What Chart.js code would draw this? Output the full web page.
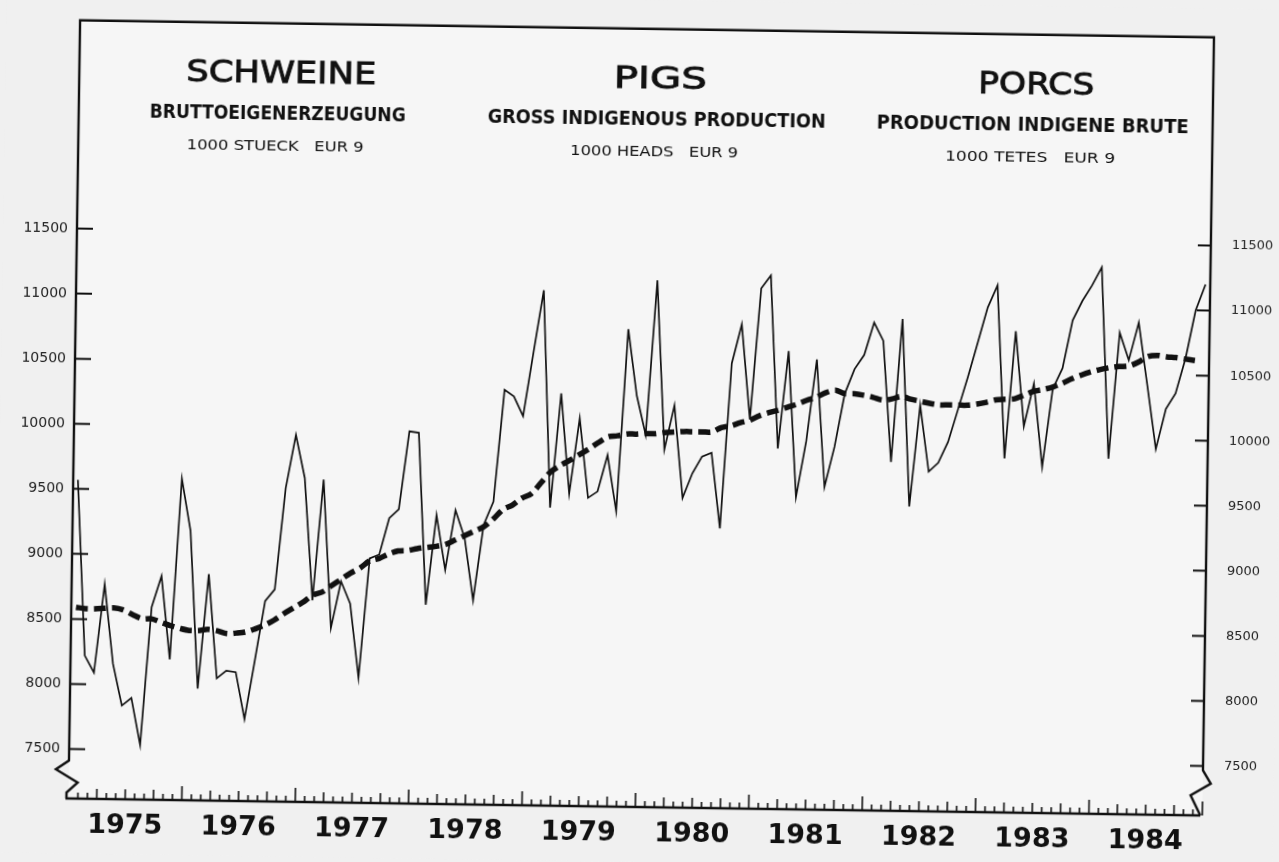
<!DOCTYPE html>
<html>
<head>
<meta charset="utf-8">
<title>Schweine / Pigs / Porcs 1975-1984</title>
<script src="https://cdn.jsdelivr.net/npm/chart.js@4.4.1/dist/chart.umd.min.js"></script>
<style>
  html, body { margin: 0; padding: 0; background: #f0f0f0; overflow: hidden; }
  #wrap { width: 1279px; height: 862px; }
  /* the original is a slightly crooked scan, so the whole sheet is turned a little */
  #chart { display: block; transform: rotate(0.86deg); transform-origin: 50% 50%; }
</style>
</head>
<body>
<div id="wrap"><canvas id="chart" width="1279" height="862"></canvas></div>
<script>
// monthly values, Jan 1975 .. Dec 1984 (1000 heads, EUR 9)
var years = ['1975', '1976', '1977', '1978', '1979', '1980', '1981', '1982', '1983', '1984'];

var production = [
  9570, 8220, 8090, 8770, 8160, 7840, 7900, 7540, 8600, 8840, 8200, 9590,
  9190, 7980, 8860, 8060, 8120, 8110, 7750, 8200, 8660, 8750, 9530, 9940,
  9610, 8670, 9600, 8460, 8820, 8650, 8080, 9000, 9030, 9310, 9380, 9980,
  9970, 8650, 9340, 8920, 9380, 9170, 8690, 9270, 9450, 10310, 10260, 10110,
  10600, 11080, 9410, 10290, 9520, 10100, 9490, 9540, 9820, 9390, 10790, 10280,
  9980, 11170, 9870, 10210, 9500, 9690, 9820, 9850, 9270, 10540, 10840, 10110,
  11120, 11220, 9890, 10640, 9520, 9950, 10580, 9600, 9910, 10320, 10510, 10620,
  10870, 10730, 9800, 10900, 9460, 10240, 9730, 9800, 9960, 10210, 10460, 10730,
  11000, 11170, 9840, 10820, 10090, 10420, 9780, 10380, 10540, 10910, 11060, 11180,
  11320, 9850, 10820, 10610, 10900, 10420, 9930, 10240, 10360, 10630, 11000, 11200
];

var trend = [
  8590, 8580, 8580, 8585, 8590, 8575, 8540, 8510, 8510, 8485, 8460, 8440,
  8425, 8425, 8435, 8425, 8405, 8410, 8420, 8445, 8475, 8515, 8565, 8610,
  8655, 8710, 8735, 8785, 8835, 8885, 8925, 8980, 9000, 9035, 9060, 9065,
  9080, 9090, 9100, 9115, 9150, 9185, 9220, 9255, 9315, 9390, 9425, 9480,
  9515, 9600, 9685, 9735, 9775, 9820, 9865, 9915, 9960, 9970, 9985, 9985,
  9990, 9990, 10000, 10005, 10010, 10010, 10010, 10010, 10045, 10060, 10085, 10105,
  10140, 10165, 10185, 10210, 10235, 10265, 10290, 10325, 10345, 10320, 10320, 10310,
  10295, 10275, 10285, 10305, 10285, 10270, 10255, 10245, 10245, 10245, 10245, 10255,
  10270, 10290, 10295, 10300, 10330, 10360, 10375, 10395, 10425, 10460, 10490, 10515,
  10535, 10550, 10560, 10565, 10595, 10640, 10650, 10640, 10635, 10625, 10615, null
];

var yTickValues = [7500, 8000, 8500, 9000, 9500, 10000, 10500, 11000, 11500];

var titleMain = ['SCHWEINE', 'PIGS', 'PORCS'];
var titleSub = ['BRUTTOEIGENERZEUGUNG', 'GROSS INDIGENOUS PRODUCTION', 'PRODUCTION INDIGENE BRUTE'];
var titleUnit = ['1000 STUECK   EUR 9', '1000 HEADS   EUR 9', '1000 TETES   EUR 9'];

function toPoints(arr) {
  var out = [];
  for (var i = 0; i < arr.length; i++) out.push({ x: i, y: arr[i] });
  return out;
}

// text squeezed or stretched to the width it has on the sheet
function fitText(ctx, text, cx, cy, font, width, heavy) {
  ctx.save();
  ctx.font = font;
  var w = ctx.measureText(text).width;
  ctx.translate(cx, cy);
  ctx.scale(width / w, 1);
  ctx.textAlign = 'center';
  ctx.textBaseline = 'middle';
  ctx.fillText(text, 0, 0);
  if (heavy) {
    ctx.lineWidth = heavy;
    ctx.strokeText(text, 0, 0);
  }
  ctx.restore();
}

var sheetPlugin = {
  id: 'sheet',
  beforeDraw: function (chart) {
    var ctx = chart.ctx, a = chart.chartArea;
    ctx.save();
    ctx.fillStyle = '#f0f0f0';
    ctx.fillRect(0, 0, chart.width, chart.height);
    ctx.fillStyle = '#f6f6f6';
    ctx.fillRect(a.left, a.top, a.right - a.left, a.bottom - a.top);
    ctx.restore();
  },
  afterDraw: function (chart) {
    var ctx = chart.ctx, a = chart.chartArea;
    var xs = chart.scales.x, yl = chart.scales.y, yr = chart.scales.y2;
    ctx.save();
    ctx.strokeStyle = '#111';
    ctx.lineJoin = 'miter';

    // frame: left axis with break, top line, right axis with break
    ctx.lineWidth = 2.4;
    ctx.beginPath();
    ctx.moveTo(a.left - 2, a.bottom);
    ctx.lineTo(a.left - 2, a.bottom - 6);
    ctx.lineTo(a.left + 9, a.bottom - 16);
    ctx.lineTo(a.left - 13, a.bottom - 29);
    ctx.lineTo(a.left, a.bottom - 38);
    ctx.lineTo(a.left, a.top);
    ctx.lineTo(a.right, a.top);
    ctx.lineTo(a.right, a.bottom - 45);
    ctx.lineTo(a.right + 8, a.bottom - 32);
    ctx.lineTo(a.right - 12, a.bottom - 20);
    ctx.lineTo(a.right - 2, a.bottom);
    ctx.stroke();

    // time axis
    ctx.lineWidth = 2.6;
    ctx.beginPath();
    ctx.moveTo(a.left - 3, a.bottom);
    ctx.lineTo(a.right - 2, a.bottom);
    ctx.stroke();

    // month ticks pointing up, longer at quarters and years
    ctx.lineWidth = 1.6;
    ctx.beginPath();
    for (var k = 1; k <= years.length * 12; k++) {
      var px = xs.getPixelForValue(k - 0.5);
      var len = k % 12 === 0 ? 14 : (k % 3 === 0 ? 10 : 6);
      ctx.moveTo(px, a.bottom);
      ctx.lineTo(px, a.bottom - len);
    }
    ctx.stroke();

    // value ticks pointing inwards on both sides
    ctx.lineWidth = 2;
    ctx.beginPath();
    yTickValues.forEach(function (v) {
      var py = yl.getPixelForValue(v);
      ctx.moveTo(a.left, py);
      ctx.lineTo(a.left + 16, py);
      var pr = yr.getPixelForValue(v);
      ctx.moveTo(a.right, pr);
      ctx.lineTo(a.right - 13, pr);
    });
    ctx.stroke();

    // three language headings
    ctx.fillStyle = '#111';
    ctx.strokeStyle = '#111';
    var colX = [276, 655, 1031];
    var w1 = [190, 93, 116], w2 = [256, 338, 312], w3 = [177, 168, 170];
    for (var c = 0; c < 3; c++) {
      fitText(ctx, titleMain[c], colX[c], 79.5, '31px "DejaVu Sans"', w1[c], 0.9);
      fitText(ctx, titleSub[c], colX[c] - 3, 120, 'bold 20px "DejaVu Sans"', w2[c]);
      fitText(ctx, titleUnit[c], colX[c] - 5, 152.5, '14px "DejaVu Sans"', w3[c]);
    }
    ctx.restore();
  }
};

var ctx = document.getElementById('chart').getContext('2d');

new Chart(ctx, {
  type: 'line',
  data: {
    datasets: [
      {
        label: 'Gross indigenous production',
        data: toPoints(production),
        borderColor: '#111',
        borderWidth: 1.7,
        pointRadius: 0,
        tension: 0,
        yAxisID: 'y'
      },
      {
        label: 'Trend',
        data: toPoints(trend),
        borderColor: '#111',
        borderWidth: 5.5,
        borderDash: [12, 6],
        pointRadius: 0,
        tension: 0.3,
        yAxisID: 'y'
      }
    ]
  },
  options: {
    responsive: false,
    animation: false,
    devicePixelRatio: 1,
    layout: { padding: { top: 25, left: 0, right: 0, bottom: 0 } },
    plugins: {
      legend: { display: false },
      tooltip: { enabled: false }
    },
    scales: {
      x: {
        type: 'linear',
        min: -0.5,
        max: years.length * 12 - 0.5,
        grid: { display: false, drawTicks: false, tickLength: 0 },
        border: { display: false },
        afterBuildTicks: function (scale) {
          scale.ticks = years.map(function (y, k) { return { value: k * 12 + 5.5 }; });
        },
        afterFit: function (scale) { scale.height = 55; },
        ticks: {
          autoSkip: false,
          maxRotation: 0,
          padding: 11,
          color: '#111',
          font: { family: 'DejaVu Sans', size: 27, weight: 'bold' },
          callback: function (v, idx) { return years[idx]; }
        }
      },
      y: {
        position: 'left',
        min: 7120,
        max: 13100,
        grid: { display: false, drawTicks: false, tickLength: 0 },
        border: { display: false },
        afterBuildTicks: function (scale) {
          scale.ticks = yTickValues.map(function (v) { return { value: v }; });
        },
        afterFit: function (scale) { scale.width = 74; },
        ticks: {
          padding: 9,
          color: '#222',
          font: { family: 'DejaVu Sans', size: 14 },
          callback: function (v) { return String(v); }
        }
      },
      y2: {
        position: 'right',
        min: 7120,
        max: 13100,
        grid: { display: false, drawTicks: false, tickLength: 0 },
        border: { display: false },
        afterBuildTicks: function (scale) {
          scale.ticks = yTickValues.map(function (v) { return { value: v }; });
        },
        afterFit: function (scale) { scale.width = 71; },
        ticks: {
          padding: 21,
          color: '#222',
          font: { family: 'DejaVu Sans', size: 13 },
          callback: function (v) { return String(v); }
        }
      }
    }
  },
  plugins: [sheetPlugin]
});
</script>
</body>
</html>
